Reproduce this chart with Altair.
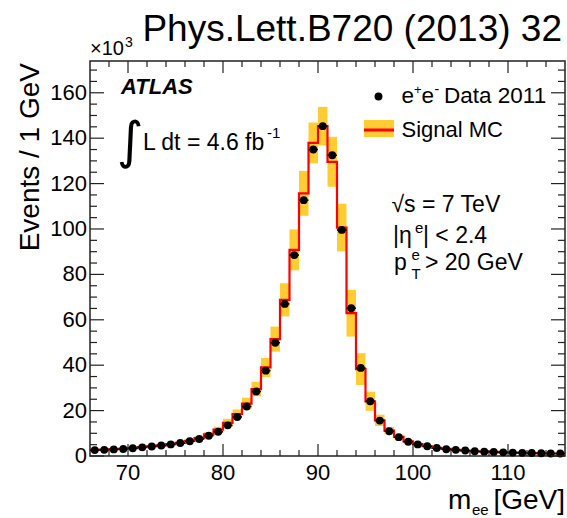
import altair as alt
import pandas as pd

FONT = "Liberation Sans"
FRAME = "#222222"
YELLOW = "#FFCC33"
RED = "#FF0000"

# ---- data (values in units of 10^3 events / 1 GeV) ----
bin_lo = list(range(66, 116))
bin_hi = [b + 1 for b in bin_lo]
centers = [b + 0.5 for b in bin_lo]

data_vals = [2.6, 2.7, 2.9, 3.1, 3.4, 3.8, 4.2, 4.6, 5.1, 5.7,
             6.5, 7.5, 8.9, 10.7, 13.5, 17.2, 21.8, 28.4, 37.6, 49.9,
             67.0, 88.5, 112.7, 135.0, 145.3, 132.5, 99.6, 65.1, 38.8, 24.1,
             15.6, 10.9, 8.3, 6.3, 5.1, 4.3, 3.5, 3.0, 2.7, 2.4,
             2.1, 1.9, 1.8, 1.6, 1.5, 1.4, 1.3, 1.2, 1.1, 1.1]

mc_vals = [2.7, 2.8, 3.0, 3.2, 3.5, 3.9, 4.3, 4.7, 5.2, 5.8,
           6.7, 7.9, 9.5, 11.6, 14.6, 18.5, 23.1, 29.5, 39.0, 51.5,
           68.8, 90.8, 115.7, 137.9, 145.3, 129.6, 100.6, 62.9, 38.3, 24.1,
           15.7, 11.2, 8.4, 6.4, 5.2, 4.3, 3.6, 3.1, 2.7, 2.4,
           2.1, 1.9, 1.8, 1.6, 1.5, 1.4, 1.3, 1.2, 1.1, 1.1]

mc_err = [0.2, 0.2, 0.2, 0.2, 0.3, 0.3, 0.3, 0.4, 0.4, 0.5,
          0.6, 0.8, 1.0, 1.3, 1.8, 2.0, 2.6, 3.2, 4.2, 5.5,
          7.3, 9.0, 9.9, 9.0, 8.5, 11.0, 10.5, 10.3, 7.0, 4.2,
          2.5, 1.6, 1.1, 0.8, 0.6, 0.5, 0.4, 0.3, 0.3, 0.2,
          0.2, 0.2, 0.2, 0.2, 0.1, 0.1, 0.1, 0.1, 0.1, 0.1]

x_major = [70, 80, 90, 100, 110]
x_minor = [v for v in range(68, 116, 2) if v % 10 != 0]
y_major = [0, 20, 40, 60, 80, 100, 120, 140, 160]
y_minor = [v for v in range(5, 175, 5) if v % 20 != 0]
x_labels = ["70", "80", "90", "100", "110"]
y_labels = ["0", "20", "40", "60", "80", "100", "120", "140", "160"]

X_DOMAIN = [66, 116]
Y_DOMAIN = [0, 174]
W, H = 475, 395

df = pd.DataFrame({"lo": bin_lo, "hi": bin_hi, "c": centers,
                   "data": data_vals, "mc": mc_vals, "err": mc_err})
df["blo"] = df["mc"] - df["err"]
df["bhi"] = df["mc"] + df["err"]

step_df = pd.DataFrame({"x": bin_lo + [bin_hi[-1]], "mc": mc_vals + [mc_vals[-1]]})

xs = alt.Scale(domain=X_DOMAIN, nice=False, zero=False)
ys = alt.Scale(domain=Y_DOMAIN, nice=False, zero=True)

base = alt.Chart(df)

band = base.mark_rect(color=YELLOW).encode(
    x=alt.X("lo:Q", scale=xs, axis=None), x2="hi:Q",
    y=alt.Y("blo:Q", scale=ys, axis=None), y2="bhi:Q",
)

step = alt.Chart(step_df).mark_line(interpolate="step-after", color=RED, strokeWidth=2.2).encode(
    x=alt.X("x:Q", scale=xs, axis=None),
    y=alt.Y("mc:Q", scale=ys, axis=None),
)

xerr = base.mark_rule(color="black", strokeWidth=1.5).encode(
    x=alt.X("lo:Q", scale=xs, axis=None), x2="hi:Q",
    y=alt.Y("data:Q", scale=ys, axis=None),
)

pts = base.mark_circle(color="black", opacity=1, size=62).encode(
    x=alt.X("c:Q", scale=xs, axis=None),
    y=alt.Y("data:Q", scale=ys, axis=None),
)

xlab = alt.Chart(pd.DataFrame({"v": x_major, "t": x_labels})).mark_text(
    align="center", baseline="alphabetic", fontSize=22, font=FONT, color="black").encode(
    x=alt.X("v:Q", scale=xs, axis=None), y=alt.value(H + 24), text="t:N")

ylab = alt.Chart(pd.DataFrame({"v": y_major, "t": y_labels})).mark_text(
    align="right", baseline="middle", fontSize=22, font=FONT, color="black").encode(
    y=alt.Y("v:Q", scale=ys, axis=None), x=alt.value(-3), text="t:N")


def xticks(vals, length):
    d = pd.DataFrame({"v": vals})
    bot = alt.Chart(d).mark_rule(color=FRAME, strokeWidth=1.2).encode(
        x=alt.X("v:Q", scale=xs, axis=None), y=alt.value(H), y2=alt.value(H - length))
    top = alt.Chart(d).mark_rule(color=FRAME, strokeWidth=1.2).encode(
        x=alt.X("v:Q", scale=xs, axis=None), y=alt.value(0), y2=alt.value(length))
    return [bot, top]


def yticks(vals, length):
    d = pd.DataFrame({"v": vals})
    left = alt.Chart(d).mark_rule(color=FRAME, strokeWidth=1.2).encode(
        y=alt.Y("v:Q", scale=ys, axis=None), x=alt.value(0), x2=alt.value(length))
    right = alt.Chart(d).mark_rule(color=FRAME, strokeWidth=1.2).encode(
        y=alt.Y("v:Q", scale=ys, axis=None), x=alt.value(W), x2=alt.value(W - length))
    return [left, right]


def label(txt, x, y, size, align="left", angle=0, weight="normal", style="normal", font=FONT):
    return alt.Chart(pd.DataFrame({"t": [txt]})).mark_text(
        align=align, baseline="alphabetic", fontSize=size, font=font, color="black",
        angle=angle, fontWeight=weight, fontStyle=style,
    ).encode(x=alt.value(x), y=alt.value(y), text="t:N")


def box(x1, x2, y1, y2, color):
    return alt.Chart(pd.DataFrame({"a": [0]})).mark_rect(color=color).encode(
        x=alt.value(x1), x2=alt.value(x2), y=alt.value(y1), y2=alt.value(y2))


texts = [
    label("Phys.Lett.B720 (2013) 32", 472, -20, 37, align="right"),
    label("×10", 0, -6, 20),
    label("3", 35, -14, 14),
    label("Events / 1 GeV", -51, 2, 28, align="right", angle=270),
    label("m", 358, 448, 28),
    label("ee", 382, 454, 15),
    label("[GeV]", 475, 448, 28, align="right"),
    label("ATLAS", 31, 33, 22, weight="bold", style="italic"),
    label("∫", 27, 97, 51, font="DejaVu Sans"),
    label("L dt = 4.6 fb", 53, 89, 23),
    label("-1", 177, 77, 15),
    # legend
    label("e", 311.5, 42, 22.5),
    label("+", 324, 33, 13),
    label("e", 331.5, 42, 22.5),
    label("-", 344.5, 33, 14),
    label("Data 2011", 354, 42, 22.5),
    label("Signal MC", 311.5, 76, 22),
    # info block
    label("√s = 7 TeV", 301.5, 151, 23),
    label("|η", 303, 182, 23),
    label("e", 325, 172, 15),
    label("| < 2.4", 333, 182, 23),
    label("p", 304, 209, 23),
    label("e", 321.5, 199, 15),
    label("T", 321.5, 218, 15),
    label("> 20 GeV", 335, 209, 23),
]

legend_dot = alt.Chart(pd.DataFrame({"a": [0]})).mark_circle(color="black", opacity=1, size=62).encode(
    x=alt.value(288.5), y=alt.value(35.5))
legend_box = box(274, 304, 59, 76, YELLOW)
legend_line = box(274, 304, 67.5, 70.5, RED)

layers = [band, step, xerr, pts, xlab, ylab]
layers += xticks(x_major, 12) + xticks(x_minor, 6) + yticks(y_major, 14) + yticks(y_minor, 7)
layers += [legend_box, legend_line, legend_dot] + texts

chart = alt.layer(*layers).properties(
    width=W, height=H,
    autosize=alt.AutoSizeParams(type="none"),
    padding={"left": 90, "top": 61, "right": 2, "bottom": 62},
    background="white",
).configure_view(stroke=FRAME, strokeWidth=1.5)

chart.save("out.html", embed_options={"renderer": "svg", "actions": False})
